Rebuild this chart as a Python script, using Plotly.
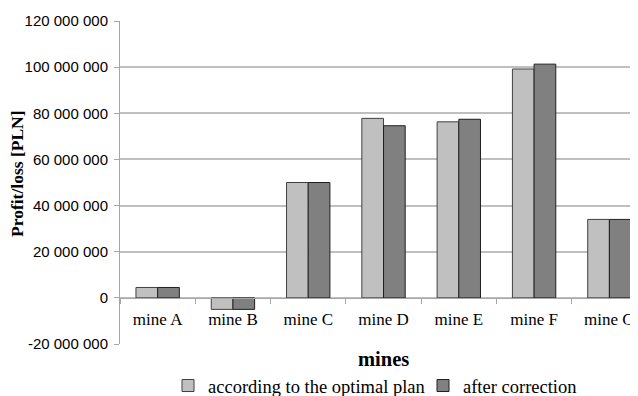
import plotly.graph_objects as go

categories = ["mine A", "mine B", "mine C", "mine D", "mine E", "mine F", "mine G"]
optimal_plan = [4.5e6, -5.0e6, 50.0e6, 77.8e6, 76.3e6, 99.2e6, 34.0e6]
after_correction = [4.5e6, -5.0e6, 50.0e6, 74.6e6, 77.4e6, 101.3e6, 34.0e6]
ytick_vals = [-20e6, 0, 20e6, 40e6, 60e6, 80e6, 100e6, 120e6]
ytick_text = ["-20 000 000", "0", "20 000 000", "40 000 000", "60 000 000",
              "80 000 000", "100 000 000", "120 000 000"]

# page has an 8px body margin, so work in page coords minus 8
OFF = 8
W, H = 638 - OFF, 396 - OFF
ML, MT = 120 - OFF, 21 - OFF
PLOT_BOTTOM = 344 - OFF
MR, MB = 0, H - PLOT_BOTTOM
plot_h = H - MT - MB
plot_w = W - ML - MR


def px_x(px):
    return (px - OFF - ML) / plot_w


def px_y(py):
    return (PLOT_BOTTOM - (py - OFF)) / plot_h


legend_font = dict(family="Liberation Serif", size=18.5, color="#000000")

fig = go.Figure()
fig.add_trace(go.Bar(x=categories, y=optimal_plan, name="according to the optimal plan",
                     legend="legend",
                     marker=dict(color="#C0C0C0", line=dict(color="#404040", width=1))))
fig.add_trace(go.Bar(x=categories, y=after_correction, name="after correction",
                     legend="legend2",
                     marker=dict(color="#808080", line=dict(color="#202020", width=1))))

fig.update_layout(
    width=W, height=H,
    margin=dict(l=ML, r=MR, t=MT, b=MB, autoexpand=False),
    plot_bgcolor="white", paper_bgcolor="white",
    barmode="group", bargap=0.424, bargroupgap=0,
    font=dict(family="Liberation Serif", size=15, color="#000000"),
    xaxis=dict(
        type="category", range=[-0.5, 6.38],
        anchor="free", position=20 / 140, automargin=False,
        showline=True, linecolor="#A6A6A6", linewidth=1,
        ticks="outside", tickson="boundaries", ticklen=5, tickcolor="#A6A6A6",
        ticklabelstandoff=6,
        showgrid=False,
        tickfont=dict(family="Liberation Serif", size=17, color="#000000"),
    ),
    yaxis=dict(
        range=[-20e6, 120e6], tickvals=ytick_vals, ticktext=ytick_text,
        automargin=False,
        showline=True, linecolor="#A6A6A6", linewidth=1,
        ticks="outside", ticklen=5, tickcolor="#A6A6A6",
        ticklabelstandoff=3,
        showgrid=True, gridcolor="#BFBFBF", gridwidth=1.5,
        zeroline=False,
        tickfont=dict(family="Liberation Sans", size=15, color="#000000"),
    ),
    showlegend=True,
    legend=dict(orientation="h", x=px_x(168), xanchor="left",
                y=px_y(386), yanchor="middle", bgcolor="rgba(0,0,0,0)",
                font=legend_font, itemwidth=30),
    legend2=dict(orientation="h", x=px_x(423), xanchor="left",
                 y=px_y(386), yanchor="middle", bgcolor="rgba(0,0,0,0)",
                 font=legend_font, itemwidth=30),
    annotations=[
        dict(text="<b>mines</b>", xref="paper", yref="paper",
             x=px_x(383.5), y=px_y(359),
             showarrow=False, xanchor="center", yanchor="middle",
             font=dict(family="Liberation Serif", size=20.5, color="#000000")),
        dict(text="<b>Profit/loss [PLN]</b>", xref="paper", yref="paper",
             x=px_x(17), y=px_y(174), textangle=-90,
             showarrow=False, xanchor="center", yanchor="middle",
             font=dict(family="Liberation Serif", size=17.5, color="#000000")),
    ],
)

fig.write_html("out.html")
